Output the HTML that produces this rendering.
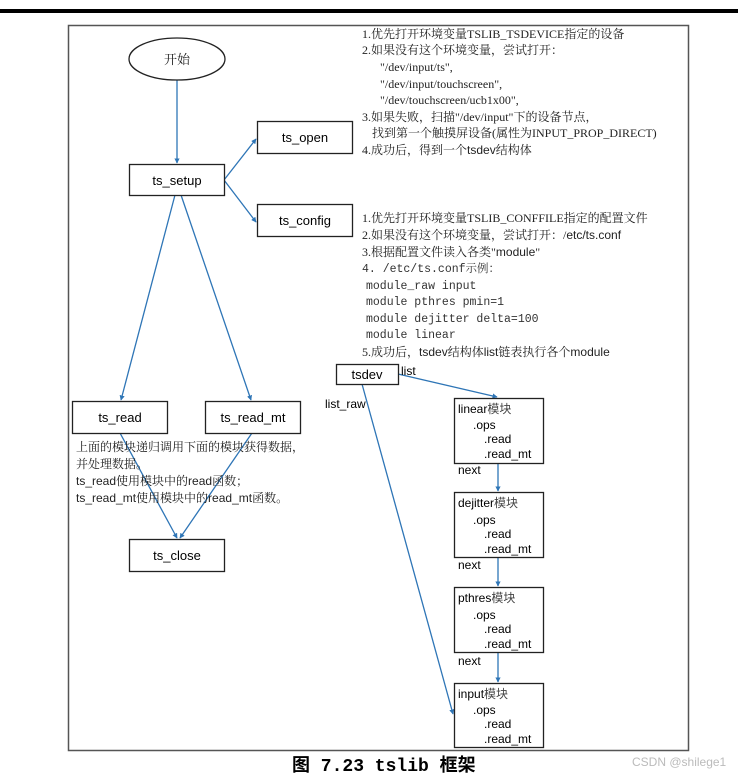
<!DOCTYPE html>
<html><head><meta charset="utf-8"><style>
body{margin:0;background:#fff;}
svg text{font-family:"Liberation Sans","Noto Sans CJK SC",sans-serif;fill:#000;}
svg text.s{font-family:"Liberation Serif","Noto Serif CJK SC","Noto Sans CJK SC",serif;font-size:12px;fill:#222;}
svg text.m{font-family:"Liberation Mono","Noto Serif CJK SC",monospace;font-size:11.5px;fill:#333;}
.l{font-size:13px;}
</style></head><body>
<svg width="738" height="773" xmlns="http://www.w3.org/2000/svg">
<defs><marker id="a" markerWidth="4" markerHeight="4" refX="3.5" refY="2" orient="auto"><path d="M0,0L4,2L0,4z" fill="#2e75b6"/></marker></defs>
<rect x="0" y="9" width="738" height="4" fill="#000"/>
<rect x="68.5" y="25.5" width="620" height="725" fill="none" stroke="#555" stroke-width="1.5"/>
<g stroke="#2e75b6" stroke-width="1.3" fill="none" marker-end="url(#a)">
<line x1="177" y1="80" x2="177" y2="163"/>
<line x1="224" y1="180" x2="256" y2="139"/>
<line x1="224" y1="180" x2="256" y2="222"/>
<line x1="175" y1="195" x2="121" y2="400"/>
<line x1="181" y1="195" x2="251" y2="400"/>
<line x1="120" y1="433" x2="177" y2="538"/>
<line x1="252" y1="433" x2="180" y2="538"/>
<line x1="398" y1="374" x2="497" y2="397"/>
<line x1="362" y1="384" x2="453" y2="714"/>
<line x1="498" y1="463" x2="498" y2="491"/>
<line x1="498" y1="557" x2="498" y2="586"/>
<line x1="498" y1="652" x2="498" y2="682"/>
</g>
<g fill="#fff" stroke="#222" stroke-width="1.3">
<ellipse cx="177" cy="59" rx="48" ry="21"/>
<rect x="129.5" y="164.5" width="95" height="31"/>
<rect x="257.5" y="121.5" width="95" height="32"/>
<rect x="257.5" y="204.5" width="95" height="32"/>
<rect x="72.5" y="401.5" width="95" height="32"/>
<rect x="205.5" y="401.5" width="95" height="32"/>
<rect x="129.5" y="539.5" width="95" height="32"/>
<rect x="336.5" y="364.5" width="62" height="20"/>
<rect x="454.5" y="398.5" width="89" height="65"/>
<rect x="454.5" y="492.5" width="89" height="65"/>
<rect x="454.5" y="587.5" width="89" height="65"/>
<rect x="454.5" y="683.5" width="89" height="64"/>
</g>
<g class="l" text-anchor="middle">
<text x="177" y="64" class="s" style="font-size:13px">开始</text>
<text x="177" y="185">ts_setup</text>
<text x="305" y="142">ts_open</text>
<text x="305" y="225">ts_config</text>
<text x="120" y="422">ts_read</text>
<text x="253" y="422">ts_read_mt</text>
<text x="177" y="560">ts_close</text>
<text x="367" y="379">tsdev</text>
</g>
<g>
<text class="s" x="362" y="38">1.优先打开环境变量TSLIB_TSDEVICE指定的设备</text>
<text class="s" x="362" y="54">2.如果没有这个环境变量，尝试打开：</text>
<text class="s" x="380" y="71">"/dev/input/ts",</text>
<text class="s" x="380" y="88">"/dev/input/touchscreen",</text>
<text class="s" x="380" y="104">"/dev/touchscreen/ucb1x00",</text>
<text class="s" x="362" y="121">3.如果失败，扫描"/dev/input"下的设备节点，</text>
<text class="s" x="372" y="137">找到第一个触摸屏设备(属性为INPUT_PROP_DIRECT)</text>
<text class="s" x="362" y="154">4.成功后，得到一个<tspan font-family="Liberation Sans">tsdev</tspan>结构体</text>
<text class="s" x="362" y="222">1.优先打开环境变量TSLIB_CONFFILE指定的配置文件</text>
<text class="s" x="362" y="239">2.如果没有这个环境变量，尝试打开：/<tspan font-family="Liberation Sans">etc/ts.conf</tspan></text>
<text class="s" x="362" y="256">3.根据配置文件读入各类"<tspan font-family="Liberation Sans">module</tspan>"</text>
<text class="s" x="362" y="356">5.成功后，<tspan font-family="Liberation Sans">tsdev</tspan>结构体<tspan font-family="Liberation Sans">list</tspan>链表执行各个<tspan font-family="Liberation Sans">module</tspan></text>
<text class="s" x="76" y="451">上面的模块递归调用下面的模块获得数据，</text>
<text class="s" x="76" y="468">并处理数据。</text>
<text class="s" x="76" y="485"><tspan font-family="Liberation Sans">ts_read</tspan>使用模块中的<tspan font-family="Liberation Sans">read</tspan>函数；</text>
<text class="s" x="76" y="502"><tspan font-family="Liberation Sans">ts_read_mt</tspan>使用模块中的<tspan font-family="Liberation Sans">read_mt</tspan>函数。</text>
<text class="m" x="362" y="272">4. /etc/ts.conf示例：</text>
<text class="m" x="366" y="289">module_raw input</text>
<text class="m" x="366" y="305">module pthres pmin=1</text>
<text class="m" x="366" y="322">module dejitter delta=100</text>
<text class="m" x="366" y="338">module linear</text>
</g>
<g style="font-size:12px">
<text x="401" y="375">list</text>
<text x="325" y="408">list_raw</text>
<text x="458" y="413">linear<tspan fill="#444">模块</tspan></text>
<text x="473" y="429">.ops</text><text x="484" y="443">.read</text><text x="484" y="458">.read_mt</text>
<text x="458" y="474">next</text>
<text x="458" y="507">dejitter<tspan fill="#444">模块</tspan></text>
<text x="473" y="524">.ops</text><text x="484" y="538">.read</text><text x="484" y="553">.read_mt</text>
<text x="458" y="569">next</text>
<text x="458" y="602">pthres<tspan fill="#444">模块</tspan></text>
<text x="473" y="619">.ops</text><text x="484" y="633">.read</text><text x="484" y="648">.read_mt</text>
<text x="458" y="665">next</text>
<text x="458" y="698">input<tspan fill="#444">模块</tspan></text>
<text x="473" y="714">.ops</text><text x="484" y="728">.read</text><text x="484" y="743">.read_mt</text>
</g>
<text x="292" y="771" style="font-family:'Liberation Mono','Noto Sans CJK SC',monospace;font-size:18px;font-weight:bold">图 7.23 tslib 框架</text>
<text x="632" y="766" style="font-size:12px;fill:#bbb">CSDN @shilege1</text>
</svg>
</body></html>
